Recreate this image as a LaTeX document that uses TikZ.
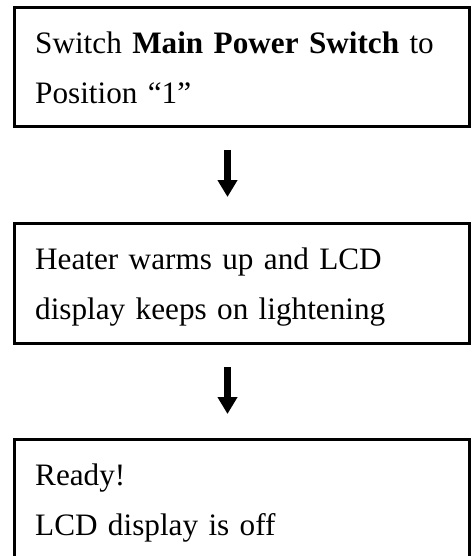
\documentclass[tikz,border=0pt]{standalone}
\usepackage{fontspec}
\setmainfont{Liberation Serif}
\usetikzlibrary{arrows.meta}
\begin{document}
\begin{tikzpicture}[x=1pt,y=1pt,
  stepbox/.style={draw=black,line width=3pt,outer sep=0pt,inner sep=0pt,
    minimum width=455.5pt,anchor=north west},
  steptext/.style={anchor=base west,inner sep=0pt,align=left,text width=432pt,
    font=\fontsize{31.2}{49.5}\selectfont},
  flowarrow/.style={line width=7pt,-{Triangle[length=17pt,width=19pt]}}]
\useasboundingbox (0,0) rectangle (471,-556);
\node[stepbox,minimum height=119pt] (b1) at (14,-7.5) {};
\node[stepbox,minimum height=120pt] (b2) at (14,-223) {};
\node[stepbox,minimum height=160pt] (b3) at (14,-439.5) {};
\node[steptext] (t1) at (35,-54)
  {Switch \textbf{Main Power Switch} to\\Position “1”};
\node[steptext] (t2) at (35,-269.5)
  {Heater warms up and LCD\\display keeps on lightening};
\node[steptext] (t3) at (35,-485.5)
  {Ready!\\LCD display is off};
\coordinate (ax) at (227.5,0);
\draw[flowarrow,shorten <=23.5pt,shorten >=26pt] (b1.south -| ax) -- (b2.north -| ax);
\draw[flowarrow,shorten <=24pt,shorten >=25.5pt] (b2.south -| ax) -- (b3.north -| ax);
\end{tikzpicture}
\end{document}
